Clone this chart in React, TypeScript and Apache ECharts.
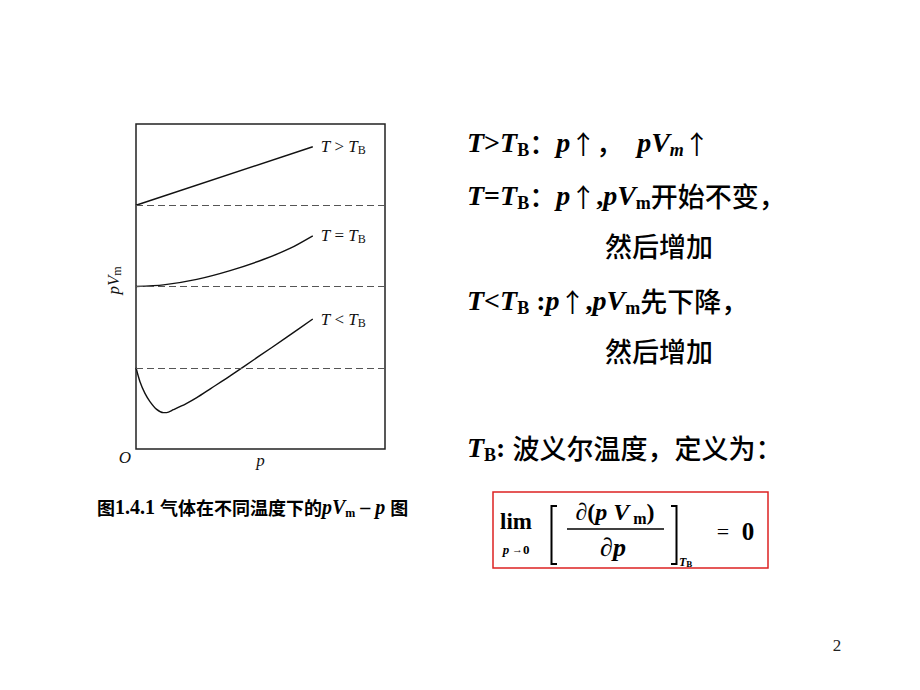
import React, { useEffect, useRef } from "react";
import * as echarts from "echarts";

// ---- data ----
const referenceLevels = [75, 50, 25];
const curveAboveTB: number[][] = [[0, 75], [71, 93]];
const curveAtTB: number[][] = [[0, 50], [11, 50.5], [24.4, 52.2], [37.8, 54.9], [51.1, 58.3], [61.8, 61.7], [71, 65.6]];
const curveBelowTB: number[][] = [
  [0, 25], [1.6, 20.7], [3.6, 17.1], [5.6, 14.6], [8.3, 12.2], [11, 11.2], [12.3, 11.2],
  [15, 12.1], [20, 13.9], [24.4, 15.8], [30, 18.6], [37.8, 22.5], [49.1, 28.4], [60, 34.1], [71, 40],
];
const curveRelations = [">", "=", "<"];
const xAxisName = "p";
const yAxisName = "{i|pV}{s|m}";

const LATIN = "'Liberation Serif', 'Times New Roman', serif";
const CJK = "'Noto Sans CJK SC', 'Noto Sans CJK JP', sans-serif";

const bigRich = {
  it: { fontFamily: LATIN, fontStyle: "italic", fontWeight: "bold", fontSize: 28, lineHeight: 34, fill: "#000" },
  b: { fontFamily: LATIN, fontWeight: "bold", fontSize: 28, lineHeight: 34, fill: "#000" },
  sub: { fontFamily: LATIN, fontWeight: "bold", fontSize: 18, lineHeight: 20, verticalAlign: "bottom", fill: "#000" },
  subi: { fontFamily: LATIN, fontWeight: "bold", fontStyle: "italic", fontSize: 18, lineHeight: 20, verticalAlign: "bottom", fill: "#000" },
  cn: { fontFamily: CJK, fontWeight: 500, fontSize: 27, lineHeight: 34, fill: "#000" },
  ar: { fontFamily: CJK, fontSize: 26, lineHeight: 34, fill: "#000" },
};

const rightLines = [
  { x: 467, y: 142, text: "{it|T}{b|>}{it|T}{sub|B}{cn|：}{it|p}{ar|↑}{cn|，}{b|  }{it|pV}{subi|m}{ar|↑}" },
  { x: 467, y: 195, text: "{it|T}{b|=}{it|T}{sub|B}{cn|：}{it|p}{ar|↑}{b|,}{it|pV}{sub|m}{cn|开始不变，}" },
  { x: 605, y: 245, text: "{cn|然后增加}" },
  { x: 467, y: 300, text: "{it|T}{b|<}{it|T}{sub|B}{b| :}{it|p}{ar|↑}{b|,}{it|pV}{sub|m}{cn|先下降，}" },
  { x: 605, y: 350, text: "{cn|然后增加}" },
  { x: 467, y: 447, text: "{it|T}{sub|B}{b|: }{cn|波义尔温度，定义为：}" },
];

const captionText = "{cn|图}{b|1.4.1 }{cn|气体在不同温度下的}{it|pV}{sub|m}{b| – }{it|p}{b| }{cn|图}";

export default function App() {
  const ref = useRef<HTMLDivElement>(null);
  useEffect(() => {
    document.body.style.margin = "0";
    const chart = echarts.init(ref.current!, null, { renderer: "svg" });
    const labelRich = {
      i: { fontFamily: LATIN, fontStyle: "italic", fontSize: 17, lineHeight: 19, color: "#111" },
      r: { fontFamily: LATIN, fontSize: 17, lineHeight: 19, color: "#111" },
      s: { fontFamily: LATIN, fontSize: 12, lineHeight: 13, verticalAlign: "bottom", color: "#111" },
    };
    const curves = [curveAboveTB, curveAtTB, curveBelowTB];
    const series: any[] = curves.map((d, k) => ({
      type: "line",
      data: d,
      showSymbol: false,
      smooth: k === 0 ? false : 0.25,
      lineStyle: { color: "#111", width: 1.4 },
      endLabel: {
        show: true,
        distance: 8,
        formatter: `{i|T}{r| ${curveRelations[k]} }{i|T}{s|B}`,
        rich: labelRich,
      },
      markLine: k === 0 ? {
        silent: true,
        symbol: "none",
        label: { show: false },
        lineStyle: { color: "#555", type: [7, 4], width: 1.2 },
        data: referenceLevels.map((v) => ({ yAxis: v })),
      } : undefined,
      z: 3,
    }));

    const graphic: any[] = [
      ...rightLines.map((l) => ({
        type: "text", x: l.x, y: l.y,
        style: { text: l.text, rich: bigRich, verticalAlign: "middle", align: "left" },
      })),
      {
        type: "text", x: 97, y: 507,
        style: {
          text: captionText, verticalAlign: "middle", align: "left",
          rich: {
            cn: { fontFamily: CJK, fontSize: 18, fontWeight: "bold", lineHeight: 24, fill: "#000" },
            b: { fontFamily: LATIN, fontSize: 20, fontWeight: "bold", lineHeight: 24, fill: "#000" },
            it: { fontFamily: LATIN, fontSize: 20, fontWeight: "bold", fontStyle: "italic", lineHeight: 24, fill: "#000" },
            sub: { fontFamily: LATIN, fontSize: 12, fontWeight: "bold", lineHeight: 13, verticalAlign: "bottom", fill: "#000" },
          },
        },
      },
      { type: "text", x: 125, y: 457, style: { text: "O", font: `italic 17px ${LATIN}`, fill: "#111", align: "center", verticalAlign: "middle" } },
      { type: "text", x: 837, y: 645, style: { text: "2", font: `17px ${LATIN}`, fill: "#222", align: "center", verticalAlign: "middle" } },
      // formula box
      { type: "rect", shape: { x: 493, y: 492, width: 275, height: 76 }, style: { fill: "none", stroke: "#dd2222", lineWidth: 1.5 } },
      { type: "text", x: 516, y: 521, style: { text: "lim", font: `bold 23px ${LATIN}`, fill: "#000", align: "center", verticalAlign: "middle" } },
      {
        type: "text", x: 516, y: 549,
        style: {
          text: "{i|p}{a| →}{b|0}", align: "center", verticalAlign: "middle",
          rich: {
            i: { fontFamily: LATIN, fontStyle: "italic", fontWeight: "bold", fontSize: 13, fill: "#000" },
            a: { fontFamily: LATIN, fontSize: 11, fill: "#000" },
            b: { fontFamily: LATIN, fontWeight: "bold", fontSize: 13, fill: "#000" },
          },
        },
      },
      { type: "polyline", shape: { points: [[557, 506], [551.5, 506], [551.5, 564], [557, 564]] }, style: { stroke: "#000", lineWidth: 2, fill: "none" } },
      { type: "polyline", shape: { points: [[671, 506], [676.5, 506], [676.5, 564], [671, 564]] }, style: { stroke: "#000", lineWidth: 2, fill: "none" } },
      {
        type: "text", x: 615, y: 512,
        style: {
          text: "{b|∂(}{it|p V}{sub| m}{b|)}", align: "center", verticalAlign: "middle",
          rich: {
            b: { fontFamily: LATIN, fontWeight: "bold", fontSize: 24, lineHeight: 28, fill: "#000" },
            it: { fontFamily: LATIN, fontWeight: "bold", fontStyle: "italic", fontSize: 24, lineHeight: 28, fill: "#000" },
            sub: { fontFamily: LATIN, fontWeight: "bold", fontSize: 16, lineHeight: 20, verticalAlign: "bottom", fill: "#000" },
          },
        },
      },
      { type: "line", shape: { x1: 567, y1: 529, x2: 664, y2: 529 }, style: { stroke: "#000", lineWidth: 1.5 } },
      {
        type: "text", x: 613, y: 547,
        style: {
          text: "{b|∂}{it|p}", align: "center", verticalAlign: "middle",
          rich: {
            b: { fontFamily: LATIN, fontWeight: "bold", fontSize: 26, fill: "#000" },
            it: { fontFamily: LATIN, fontWeight: "bold", fontStyle: "italic", fontSize: 26, fill: "#000" },
          },
        },
      },
      {
        type: "text", x: 679, y: 562,
        style: {
          text: "{i|T}{s|B}", align: "left", verticalAlign: "middle",
          rich: {
            i: { fontFamily: LATIN, fontWeight: "bold", fontStyle: "italic", fontSize: 12, lineHeight: 12, fill: "#000" },
            s: { fontFamily: LATIN, fontWeight: "bold", fontSize: 9, lineHeight: 8, verticalAlign: "bottom", fill: "#000" },
          },
        },
      },
      { type: "text", x: 723, y: 531, style: { text: "=", font: `22px ${LATIN}`, fill: "#000", align: "center", verticalAlign: "middle" } },
      { type: "text", x: 748, y: 531, style: { text: "0", font: `bold 25px ${LATIN}`, fill: "#000", align: "center", verticalAlign: "middle" } },
    ];

    chart.setOption({
      animation: false,
      backgroundColor: "#fff",
      grid: { left: 136, top: 124, width: 249, height: 325, show: true, borderColor: "#222", borderWidth: 1.5, backgroundColor: "transparent" },
      xAxis: {
        type: "value", min: 0, max: 100,
        axisLine: { show: false }, axisTick: { show: false }, axisLabel: { show: false }, splitLine: { show: false },
        name: xAxisName, nameLocation: "middle", nameGap: 3,
        nameTextStyle: { fontFamily: LATIN, fontStyle: "italic", fontSize: 17, color: "#111" },
      },
      yAxis: {
        type: "value", min: 0, max: 100,
        axisLine: { show: false }, axisTick: { show: false }, axisLabel: { show: false }, splitLine: { show: false },
        name: yAxisName, nameLocation: "middle", nameGap: 13, nameRotate: 90,
        nameTextStyle: { rich: labelRich, padding: [0, 0, 0, 12] },
      },
      series,
      graphic,
    });
    return () => chart.dispose();
  }, []);
  return <div ref={ref} style={{ width: 920, height: 690 }} />;
}
